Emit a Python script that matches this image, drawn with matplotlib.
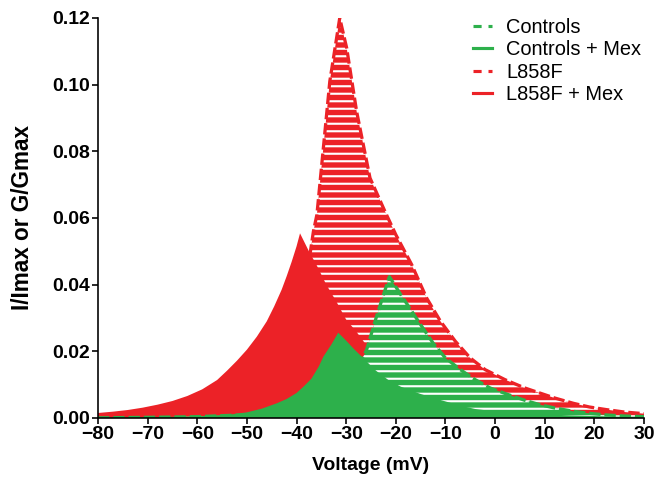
import matplotlib
matplotlib.use("Agg")
import matplotlib.pyplot as plt

# Window currents (voltage in mV, I/Imax or G/Gmax)
ctrl_v = [-80, -70, -60, -50, -45, -40, -35, -30, -28, -25.9, -23.9, -21.3,
          -19, -17, -15, -12.5, -10, -7, -4, -1, 2.3, 6, 9, 12, 15.8, 19, 22.5, 26, 30]
ctrl_i = [0.00005, 0.0002, 0.0004, 0.001, 0.002, 0.0035, 0.006, 0.010, 0.014, 0.0204, 0.0304, 0.0424,
          0.037, 0.0325, 0.028, 0.0225, 0.018, 0.0145, 0.0115, 0.009, 0.0072, 0.0053, 0.004, 0.003, 0.002, 0.0014, 0.0009, 0.0006, 0.0004]

ctrl_mex_v = [-80, -70, -60, -56, -53, -50, -47, -44, -42, -40, -38.6, -37, -35.5, -34.6, -33, -31.6,
              -30, -28.5, -26.6, -24, -21.5, -19, -15, -11, -7, -4, 0, 5, 10, 15, 20, 25, 30]
ctrl_mex_i = [0.0001, 0.0002, 0.0005, 0.0008, 0.0011, 0.0017, 0.0028, 0.0044, 0.0057, 0.0075, 0.0094, 0.0118, 0.0155, 0.0184, 0.022, 0.0256,
              0.0232, 0.0208, 0.018, 0.0142, 0.0114, 0.0094, 0.0072, 0.0054, 0.0037, 0.0027, 0.002, 0.0014, 0.0011, 0.0008, 0.0006, 0.0004, 0.0003]

l858f_v = [-80, -70, -60, -55, -50, -46, -43, -40, -38, -36.6, -35.9, -34.6, -33.3, -31.3,
           -29.9, -27.9, -25.2, -22.2, -20, -16.8, -13.8, -11, -8, -5, -2, 2, 6, 9, 12, 15.8, 19, 22.5, 26, 30]
l858f_i = [0.0003, 0.0009, 0.0025, 0.0045, 0.008, 0.014, 0.021, 0.032, 0.042, 0.056, 0.061, 0.081, 0.101, 0.120,
           0.111, 0.092, 0.072, 0.062, 0.055, 0.046, 0.036, 0.029, 0.023, 0.018, 0.0145, 0.0115, 0.009, 0.0075, 0.006, 0.0044, 0.0033, 0.0025, 0.0018, 0.0013]

l858f_mex_v = [-80, -77, -74, -71, -68, -65, -62, -59, -56, -54, -52, -50, -48, -46, -44.5, -43, -42, -41, -40, -39.3,
               -38.5, -37.5, -36, -34, -32, -30, -28, -26, -24, -20, -15, -10, -5, 0, 10, 20, 30]
l858f_mex_i = [0.0015, 0.0019, 0.0024, 0.0031, 0.0040, 0.0051, 0.0066, 0.0086, 0.0114, 0.0142, 0.0172, 0.0205, 0.0244, 0.029, 0.0335, 0.0385, 0.0425, 0.0468, 0.0515, 0.0554,
               0.053, 0.050, 0.046, 0.040, 0.035, 0.0295, 0.026, 0.022, 0.018, 0.0125, 0.008, 0.005, 0.0032, 0.002, 0.0008, 0.0003, 0.0001]

red = "#EC2227"
green = "#2DB04B"

plt.rcParams["font.family"] = ["Liberation Sans", "DejaVu Sans"]
plt.rcParams["hatch.linewidth"] = 1.7

fig = plt.figure(figsize=(664 / 90, 477 / 90), dpi=90)
ax = fig.add_axes([98 / 664, 1 - 418 / 477, 546 / 664, 400 / 477])

# dashed = striped fill, solid = plain fill
ax.fill_between(l858f_v, l858f_i, 0, facecolor=red, edgecolor="white", hatch="--", linewidth=0, zorder=1)
ax.plot(l858f_v, l858f_i, color=red, lw=2.6, ls=(0, (3.5, 1.2)), zorder=1.1)
ax.fill_between(l858f_mex_v, l858f_mex_i, 0, facecolor=red, linewidth=0, zorder=2)
ax.fill_between(ctrl_v, ctrl_i, 0, facecolor=green, edgecolor="white", hatch="--", linewidth=0, zorder=3)
ax.plot(ctrl_v, ctrl_i, color=green, lw=2.6, ls=(0, (3.5, 1.2)), zorder=3.1)
ax.fill_between(ctrl_mex_v, ctrl_mex_i, 0, facecolor=green, linewidth=0, zorder=4)

# legend handles
ax.plot([], [], color=green, lw=2.5, ls=(0, (2.6, 2.2)), label="Controls")
ax.plot([], [], color=green, lw=2.5, label="Controls + Mex")
ax.plot([], [], color=red, lw=2.5, ls=(0, (2.6, 2.2)), label="L858F")
ax.plot([], [], color=red, lw=2.5, label="L858F + Mex")
ax.legend(loc="upper right", bbox_to_anchor=(641 / 664, 1 - 18 / 477), bbox_transform=fig.transFigure,
          frameon=False, fontsize=16, handlelength=0.95, handletextpad=0.7, labelspacing=0.17,
          borderpad=0, borderaxespad=0)

ax.set_xlim(-80, 30)
ax.set_ylim(0, 0.12)
ax.set_xticks(range(-80, 31, 10))
ax.set_yticks([0, 0.02, 0.04, 0.06, 0.08, 0.10, 0.12])
ax.set_yticklabels(["0.00", "0.02", "0.04", "0.06", "0.08", "0.10", "0.12"])
ax.spines["top"].set_visible(False)
ax.spines["right"].set_visible(False)
for s in ("left", "bottom"):
    ax.spines[s].set_linewidth(1.3)
    ax.spines[s].set_zorder(6)
ax.tick_params(direction="out", length=4.5, width=1.3, labelsize=15.5, pad=2)
for lab in ax.get_xticklabels() + ax.get_yticklabels():
    lab.set_fontweight("bold")

ax.set_xlabel("Voltage (mV)", fontsize=15.5, fontweight="bold", labelpad=11)
ax.set_ylabel("I/Imax or G/Gmax", fontsize=18, fontweight="bold", labelpad=14)

fig.savefig("out.png", dpi=90)
